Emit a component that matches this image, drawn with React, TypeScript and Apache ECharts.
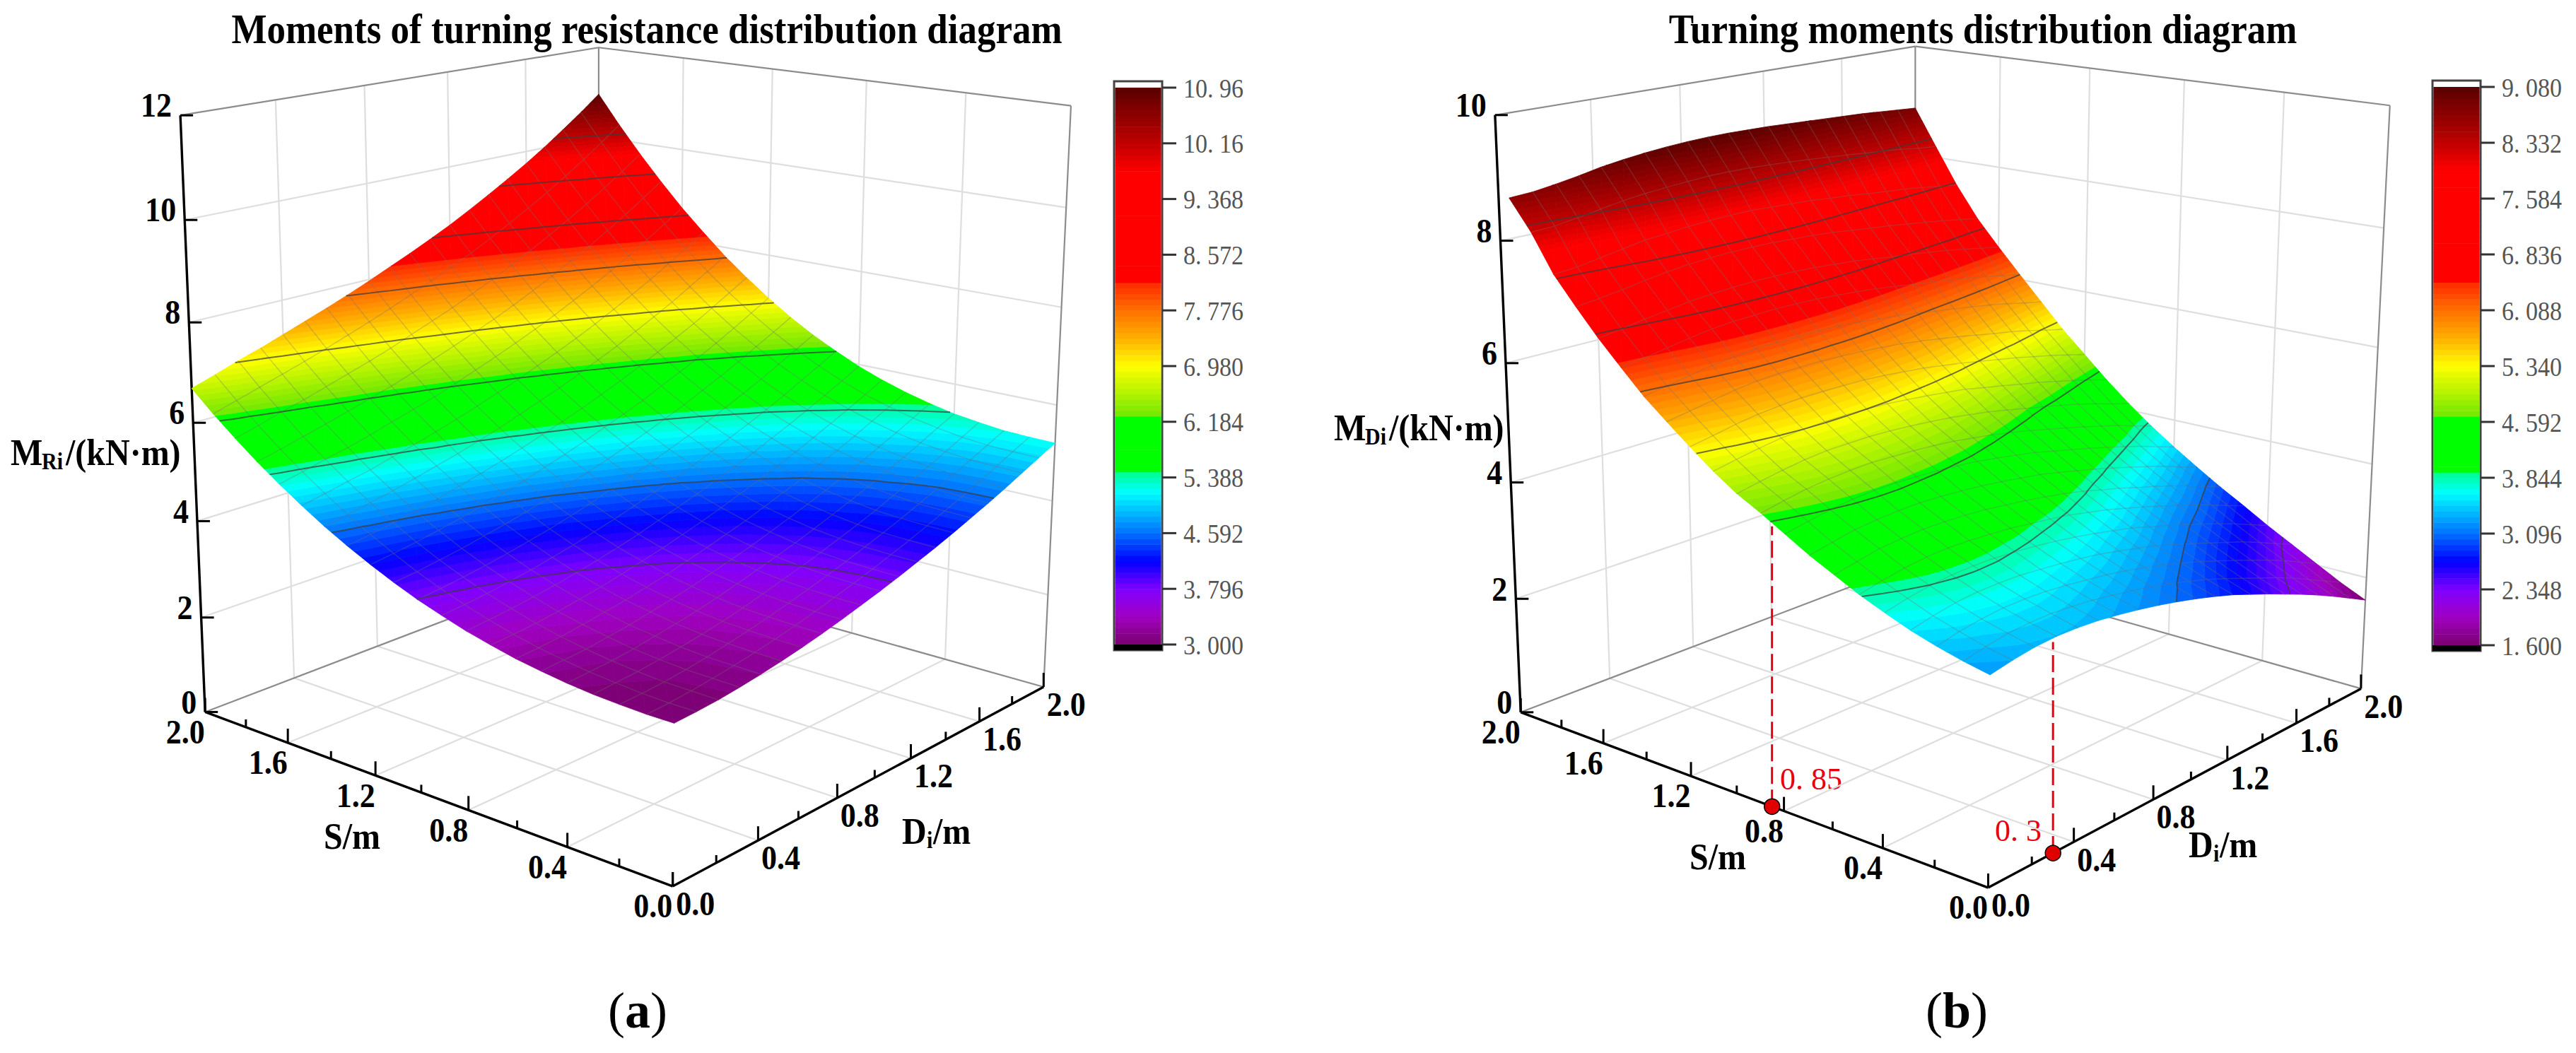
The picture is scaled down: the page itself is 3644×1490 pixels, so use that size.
import React, { useEffect, useRef } from "react";
import * as echarts from "echarts";

const SERIF = '"Liberation Serif"';
const S_GRID = [0, 0.1, 0.2, 0.3, 0.4, 0.5, 0.6, 0.7, 0.8, 0.9, 1.0, 1.1, 1.2, 1.3, 1.4, 1.5, 1.6, 1.7, 1.8, 1.9, 2.0];
const AXIS_MAJOR = [0, 0.4, 0.8, 1.2, 1.6, 2.0];
const AXIS_MINOR = [0.2, 0.6, 1.0, 1.4, 1.8];

// Moment values: rows S = 0..2, columns Di = 0..2
const LEFT_VALUES = [
[3.00,3.02,3.05,3.10,3.16,3.23,3.31,3.40,3.50,3.61,3.72,3.84,3.97,4.10,4.24,4.39,4.54,4.70,4.87,5.04,5.21],
[3.00,3.02,3.06,3.11,3.17,3.24,3.32,3.41,3.51,3.62,3.73,3.85,3.98,4.11,4.25,4.40,4.55,4.71,4.88,5.05,5.22],
[3.02,3.04,3.07,3.12,3.18,3.26,3.34,3.43,3.53,3.64,3.75,3.87,4.00,4.13,4.27,4.42,4.57,4.73,4.90,5.07,5.24],
[3.05,3.08,3.11,3.16,3.22,3.29,3.37,3.46,3.57,3.68,3.79,3.91,4.04,4.17,4.31,4.47,4.62,4.78,4.95,5.12,5.30],
[3.10,3.13,3.16,3.21,3.28,3.35,3.43,3.52,3.63,3.74,3.85,3.97,4.10,4.24,4.38,4.53,4.69,4.85,5.02,5.20,5.37],
[3.17,3.20,3.23,3.29,3.35,3.43,3.51,3.60,3.71,3.82,3.93,4.06,4.19,4.33,4.47,4.62,4.78,4.95,5.12,5.30,5.48],
[3.25,3.28,3.32,3.38,3.45,3.52,3.61,3.70,3.81,3.92,4.04,4.16,4.30,4.44,4.58,4.74,4.90,5.07,5.25,5.43,5.61],
[3.36,3.39,3.43,3.49,3.56,3.64,3.73,3.83,3.93,4.05,4.17,4.30,4.44,4.58,4.73,4.88,5.05,5.22,5.40,5.58,5.77],
[3.48,3.52,3.57,3.63,3.70,3.78,3.87,3.97,4.08,4.21,4.33,4.46,4.60,4.74,4.89,5.06,5.22,5.40,5.58,5.77,5.96],
[3.63,3.67,3.72,3.79,3.86,3.95,4.04,4.15,4.26,4.38,4.51,4.64,4.78,4.93,5.09,5.25,5.42,5.60,5.80,5.99,6.19],
[3.79,3.84,3.90,3.97,4.05,4.14,4.23,4.34,4.46,4.59,4.71,4.85,5.00,5.15,5.31,5.48,5.66,5.84,6.04,6.24,6.44],
[3.98,4.03,4.10,4.17,4.26,4.35,4.45,4.56,4.69,4.82,4.95,5.09,5.24,5.40,5.56,5.74,5.92,6.11,6.32,6.52,6.73],
[4.19,4.25,4.32,4.40,4.49,4.59,4.70,4.81,4.94,5.07,5.21,5.36,5.51,5.67,5.85,6.03,6.21,6.41,6.62,6.84,7.06],
[4.42,4.49,4.57,4.65,4.75,4.86,4.97,5.09,5.22,5.36,5.50,5.65,5.81,5.98,6.16,6.35,6.54,6.74,6.96,7.19,7.42],
[4.67,4.75,4.84,4.93,5.04,5.15,5.26,5.39,5.52,5.67,5.82,5.97,6.14,6.32,6.50,6.70,6.90,7.11,7.34,7.57,7.81],
[4.95,5.04,5.14,5.23,5.35,5.46,5.59,5.72,5.86,6.01,6.16,6.33,6.50,6.68,6.87,7.08,7.29,7.51,7.75,7.99,8.25],
[5.25,5.35,5.46,5.56,5.68,5.81,5.94,6.07,6.22,6.38,6.54,6.71,6.89,7.08,7.28,7.49,7.71,7.94,8.19,8.45,8.71],
[5.57,5.68,5.80,5.92,6.05,6.18,6.31,6.46,6.62,6.78,6.95,7.12,7.31,7.51,7.72,7.94,8.16,8.41,8.67,8.94,9.22],
[5.92,6.04,6.18,6.30,6.44,6.58,6.72,6.87,7.04,7.21,7.38,7.57,7.76,7.97,8.19,8.42,8.66,8.91,9.18,9.46,9.76],
[6.29,6.43,6.57,6.71,6.85,7.00,7.16,7.32,7.49,7.67,7.85,8.04,8.24,8.46,8.69,8.93,9.18,9.45,9.73,10.03,10.34],
[6.69,6.84,7.00,7.14,7.30,7.46,7.62,7.79,7.97,8.16,8.35,8.55,8.76,8.99,9.23,9.48,9.74,10.02,10.32,10.63,10.96],
];
const RIGHT_VALUES = [
[3.25,3.32,3.37,3.39,3.38,3.35,3.30,3.24,3.17,3.09,3.00,2.90,2.79,2.66,2.53,2.39,2.25,2.10,1.94,1.77,1.60],
[3.33,3.40,3.46,3.48,3.48,3.45,3.41,3.35,3.29,3.21,3.13,3.03,2.93,2.81,2.68,2.55,2.42,2.28,2.12,1.96,1.80],
[3.43,3.51,3.56,3.59,3.59,3.57,3.53,3.48,3.43,3.36,3.28,3.19,3.09,2.98,2.86,2.74,2.61,2.48,2.34,2.18,2.03],
[3.55,3.63,3.69,3.72,3.72,3.71,3.67,3.63,3.58,3.52,3.44,3.36,3.27,3.16,3.05,2.93,2.81,2.69,2.55,2.40,2.26],
[3.70,3.78,3.84,3.87,3.88,3.87,3.84,3.80,3.75,3.69,3.62,3.54,3.46,3.35,3.25,3.13,3.02,2.90,2.77,2.63,2.49],
[3.86,3.94,4.00,4.04,4.05,4.04,4.01,3.98,3.93,3.88,3.82,3.74,3.66,3.56,3.46,3.35,3.24,3.13,3.00,2.87,2.74],
[4.05,4.12,4.19,4.22,4.24,4.23,4.21,4.18,4.13,4.08,4.02,3.95,3.87,3.77,3.68,3.57,3.47,3.36,3.24,3.11,2.98],
[4.24,4.31,4.38,4.41,4.43,4.43,4.41,4.38,4.34,4.29,4.23,4.17,4.09,4.00,3.91,3.81,3.71,3.60,3.49,3.36,3.24],
[4.46,4.53,4.59,4.63,4.65,4.65,4.63,4.61,4.57,4.53,4.47,4.40,4.33,4.24,4.15,4.06,3.96,3.86,3.75,3.63,3.51],
[4.68,4.75,4.81,4.85,4.87,4.88,4.86,4.84,4.81,4.77,4.71,4.65,4.58,4.50,4.41,4.32,4.23,4.13,4.03,3.91,3.80],
[4.88,4.95,5.01,5.06,5.09,5.09,5.09,5.07,5.04,5.00,4.96,4.90,4.84,4.76,4.68,4.60,4.52,4.43,4.33,4.22,4.12],
[5.13,5.20,5.26,5.31,5.34,5.35,5.35,5.34,5.32,5.28,5.24,5.19,5.14,5.06,4.99,4.91,4.84,4.75,4.66,4.57,4.47],
[5.42,5.48,5.55,5.60,5.63,5.65,5.65,5.64,5.63,5.60,5.56,5.52,5.46,5.40,5.33,5.26,5.19,5.11,5.03,4.94,4.85],
[5.72,5.78,5.84,5.90,5.94,5.96,5.96,5.96,5.94,5.92,5.89,5.85,5.80,5.74,5.68,5.61,5.54,5.48,5.40,5.31,5.23],
[6.03,6.09,6.15,6.21,6.25,6.28,6.29,6.29,6.28,6.27,6.24,6.20,6.16,6.11,6.05,6.00,5.94,5.88,5.81,5.73,5.66],
[6.40,6.45,6.51,6.57,6.62,6.65,6.66,6.67,6.66,6.65,6.62,6.59,6.55,6.50,6.45,6.40,6.35,6.29,6.23,6.16,6.09],
[6.78,6.83,6.89,6.94,6.99,7.02,7.04,7.05,7.05,7.04,7.02,6.99,6.96,6.91,6.86,6.82,6.77,6.72,6.66,6.59,6.53],
[7.20,7.24,7.29,7.35,7.40,7.44,7.46,7.47,7.47,7.46,7.44,7.42,7.39,7.34,7.30,7.26,7.21,7.16,7.11,7.05,6.99],
[7.64,7.67,7.73,7.79,7.85,7.88,7.91,7.93,7.94,7.94,7.92,7.90,7.88,7.84,7.81,7.77,7.73,7.70,7.65,7.60,7.55],
[8.24,8.26,8.31,8.37,8.43,8.47,8.50,8.52,8.54,8.54,8.53,8.51,8.49,8.46,8.43,8.40,8.36,8.33,8.29,8.24,8.20],
[8.72,8.74,8.79,8.85,8.92,8.97,9.01,9.04,9.06,9.07,9.07,9.06,9.05,9.03,9.01,8.99,8.97,8.95,8.92,8.89,8.86],
];

const LEFT_LEGEND = ["3. 000","3. 796","4. 592","5. 388","6. 184","6. 980","7. 776","8. 572","9. 368","10. 16","10. 96"];
const RIGHT_LEGEND = ["1. 600","2. 348","3. 096","3. 844","4. 592","5. 340","6. 088","6. 836","7. 584","8. 332","9. 080"];
const LEFT_Z_TICKS = [0, 2, 4, 6, 8, 10, 12];
const RIGHT_Z_TICKS = [0, 2, 4, 6, 8, 10];

const STOPS: [number, string][] = [
  [0, "#7a006e"], [0.05, "#a000c0"], [0.1, "#8000ff"], [0.15, "#0000ff"], [0.2, "#0070ff"], [0.273, "#00ffff"],
  [0.31, "#00ff90"], [0.31, "#00ff00"], [0.41, "#00ff00"], [0.41, "#70e800"], [0.5, "#ffff00"], [0.55, "#ffb000"],
  [0.6, "#ff7000"], [0.645, "#ff3000"], [0.645, "#ff0000"], [0.85, "#ff0000"], [0.9, "#c00000"], [1, "#5a0000"],
];
const hex = (h: string) => [1, 3, 5].map((k) => parseInt(h.slice(k, k + 2), 16));
function cmap(t: number) {
  for (let k = 0; k < STOPS.length - 1; k++) {
    const [a, ca] = STOPS[k]; const [b, cb] = STOPS[k + 1];
    if (t <= b && b > a) {
      const u = Math.max(0, (t - a) / (b - a)); const x = hex(ca), y = hex(cb);
      return `rgb(${x.map((v, n) => Math.round(v + (y[n] - v) * u)).join(",")})`;
    }
  }
  return STOPS[STOPS.length - 1][1];
}
const N_BANDS = 100;
function makeBands(min: number, max: number) {
  const out: { lo: number; hi: number; c: string }[] = [];
  for (let k = 0; k < N_BANDS; k++) {
    const c = cmap((k + 0.5) / N_BANDS);
    const lo = k === 0 ? -1e9 : min + ((max - min) * k) / N_BANDS;
    const hi = k === N_BANDS - 1 ? 1e9 : min + ((max - min) * (k + 1)) / N_BANDS;
    if (out.length && out[out.length - 1].c === c) out[out.length - 1].hi = hi;
    else out.push({ lo, hi, c });
  }
  return out;
}

function solve(A: number[][], b: number[]) {
  const n = b.length; const M = A.map((r, i) => [...r, b[i]]);
  for (let c = 0; c < n; c++) {
    let p = c; for (let r = c + 1; r < n; r++) if (Math.abs(M[r][c]) > Math.abs(M[p][c])) p = r;
    [M[c], M[p]] = [M[p], M[c]];
    for (let r = 0; r < n; r++) if (r !== c) { const q = M[r][c] / M[c][c]; for (let k = c; k <= n; k++) M[r][k] -= q * M[c][k]; }
  }
  return M.map((r, i) => r[n] / r[i]);
}
type P3 = [number, number, number, number, number];
function makeProject(corners: P3[], zMax: number) {
  const rows: number[][] = []; const rhs: number[] = [];
  for (const [s, d, h, x, y] of corners) {
    const u = x / 1000, v = y / 1000;
    rows.push([s, d, h, 1, 0, 0, 0, 0, -u * s, -u * d, -u * h]); rhs.push(u);
    rows.push([0, 0, 0, 0, s, d, h, 1, -v * s, -v * d, -v * h]); rhs.push(v);
  }
  const n = 11; const AtA = Array.from({ length: n }, () => Array(n).fill(0)); const Atb = Array(n).fill(0);
  rows.forEach((r, k) => { for (let a = 0; a < n; a++) { Atb[a] += r[a] * rhs[k]; for (let b = 0; b < n; b++) AtA[a][b] += r[a] * r[b]; } });
  const p = solve(AtA, Atb);
  return (S: number, D: number, z: number): [number, number] => {
    const s = S / 2, d = D / 2, h = z / zMax; const w = p[8] * s + p[9] * d + p[10] * h + 1;
    return [((p[0] * s + p[1] * d + p[2] * h + p[3]) / w) * 1000, ((p[4] * s + p[5] * d + p[6] * h + p[7]) / w) * 1000];
  };
}
type V = { x: number; y: number; z: number };
function clip(poly: V[], level: number, keepAbove: boolean) {
  const out: V[] = [];
  for (let k = 0; k < poly.length; k++) {
    const a = poly[k], b = poly[(k + 1) % poly.length];
    const ia = keepAbove ? a.z >= level : a.z <= level; const ib = keepAbove ? b.z >= level : b.z <= level;
    if (ia) out.push(a);
    if (ia !== ib) { const u = (level - a.z) / (b.z - a.z); out.push({ x: a.x + (b.x - a.x) * u, y: a.y + (b.y - a.y) * u, z: level }); }
  }
  return out;
}

function buildPanel(cfg: any) {
  const { corners, zMax, zTicks, values, legend, vmin, vmax, sShrink } = cfg;
  const project = makeProject(corners, zMax);
  const bands = makeBands(vmin, vmax);
  const levels = legend.slice(1, -1).map((_: string, k: number) => vmin + ((vmax - vmin) * (k + 1)) / 10);
  const frameData: any[] = [];
  const add = (a: number[], b: number[], kind: number) => frameData.push([...a, ...b, kind]);
  const inner = AXIS_MAJOR.slice(1, -1);
  inner.forEach((t) => { add([t, 0, 0], [t, 2, 0], 0); add([0, t, 0], [2, t, 0], 0); add([t, 2, 0], [t, 2, zMax], 0); add([2, t, 0], [2, t, zMax], 0); });
  zTicks.slice(1, -1).forEach((z: number) => { add([0, 2, z], [2, 2, z], 0); add([2, 0, z], [2, 2, z], 0); });
  add([2, 0, 0], [2, 2, 0], 1); add([2, 2, 0], [0, 2, 0], 1); add([2, 2, 0], [2, 2, zMax], 1);
  add([2, 0, zMax], [2, 2, zMax], 1); add([2, 2, zMax], [0, 2, zMax], 1); add([0, 2, 0], [0, 2, zMax], 1);
  add([0, 0, 0], [2, 0, 0], 2); add([0, 0, 0], [0, 2, 0], 2); add([2, 0, 0], [2, 0, zMax], 2);
  const frame = {
    type: "custom", coordinateSystem: "none", silent: true, animation: false, progressive: 0, clip: false, data: frameData,
    renderItem: (_p: any, api: any) => {
      const a = project(api.value(0), api.value(1), api.value(2)); const b = project(api.value(3), api.value(4), api.value(5)); const k = api.value(6);
      return { type: "line", shape: { x1: a[0], y1: a[1], x2: b[0], y2: b[1] }, style: { stroke: ["#dedede", "#8c8c8c", "#000"][k], lineWidth: [2.2, 2.2, 3.4][k] } };
    },
  };
  const tickData: any[] = [];
  AXIS_MAJOR.forEach((t) => { tickData.push([t, 0, 0, 0, -20]); tickData.push([0, t, 0, 0, -20]); });
  AXIS_MINOR.forEach((t) => { tickData.push([t, 0, 0, 0, -11]); tickData.push([0, t, 0, 0, -11]); });
  zTicks.forEach((z: number) => tickData.push([2, 0, z, 18, 0]));
  const ticks = {
    type: "custom", coordinateSystem: "none", silent: true, animation: false, progressive: 0, clip: false, data: tickData,
    renderItem: (_p: any, api: any) => {
      const a = project(api.value(0), api.value(1), api.value(2));
      return { type: "line", shape: { x1: a[0], y1: a[1], x2: a[0] + api.value(3), y2: a[1] + api.value(4) }, style: { stroke: "#000", lineWidth: 3 } };
    },
  };
  const cells: number[][] = [];
  for (let i = 19; i >= 0; i--) for (let j = 19; j >= 0; j--) cells.push([i, j, values[i][j], values[i + 1][j], values[i + 1][j + 1], values[i][j + 1]]);
  const sAt = (a: number, b: number) => S_GRID[a] * (1 - sShrink * (1 - S_GRID[b] / 2));
  const surface = {
    type: "custom", coordinateSystem: "none", silent: true, animation: false, progressive: 0, clip: false, data: cells,
    renderItem: (_p: any, api: any) => {
      const i = api.value(0), j = api.value(1);
      const idx = [[i, j, 2], [i + 1, j, 3], [i + 1, j + 1, 4], [i, j + 1, 5]];
      const vs: V[] = idx.map(([a, b, c]) => { const z = api.value(c); const q = project(sAt(a, b), S_GRID[b], z); return { x: q[0], y: q[1], z }; });
      const children: any[] = [];
      [[vs[0], vs[1], vs[2]], [vs[0], vs[2], vs[3]]].forEach((tri) => {
        const zs = tri.map((v) => v.z); const lo = Math.min(...zs), hi = Math.max(...zs);
        bands.forEach((b) => {
          if (b.hi < lo || b.lo > hi) return;
          const poly = clip(clip(tri, b.lo, true), b.hi, false);
          if (poly.length < 3) return;
          children.push({ type: "polygon", shape: { points: poly.map((v) => [v.x, v.y]) }, style: { fill: b.c, stroke: b.c, lineWidth: 0.8 } });
        });
        levels.forEach((l: number) => {
          if (l <= lo || l >= hi) return;
          const pts: number[][] = [];
          tri.forEach((a, k) => { const c = tri[(k + 1) % 3]; if ((a.z - l) * (c.z - l) < 0) { const u = (l - a.z) / (c.z - a.z); pts.push([a.x + (c.x - a.x) * u, a.y + (c.y - a.y) * u]); } });
          if (pts.length === 2) children.push({ type: "line", z2: 3, shape: { x1: pts[0][0], y1: pts[0][1], x2: pts[1][0], y2: pts[1][1] }, style: { stroke: "rgba(60,60,60,0.72)", lineWidth: 2 } });
        });
      });
      const mesh = "rgba(110,110,110,0.3)";
      if (j > 0) children.push({ type: "line", z2: 2, shape: { x1: vs[0].x, y1: vs[0].y, x2: vs[1].x, y2: vs[1].y }, style: { stroke: mesh, lineWidth: 1.5 } });
      if (i > 0) children.push({ type: "line", z2: 2, shape: { x1: vs[0].x, y1: vs[0].y, x2: vs[3].x, y2: vs[3].y }, style: { stroke: mesh, lineWidth: 1.5 } });
      return { type: "group", children };
    },
  };
  const g: any[] = [];
  const text = (t: string, x: number, y: number, font: string, align = "center", fill = "#000", sy = 1) =>
    g.push({ type: "text", silent: true, x, y, scaleY: sy, style: { text: t, x: 0, y: 0, font, align, verticalAlign: "middle", fill } });
  const tickFont = `bold 44px ${SERIF}`;
  AXIS_MAJOR.forEach((t) => {
    const a = project(t, 0, 0); text(t.toFixed(1), a[0] - 28, a[1] + 28, tickFont, "center", "#000", 1.1);
    const b = project(0, t, 0); text(t.toFixed(1), b[0] + 32, b[1] + 25, tickFont, "center", "#000", 1.1);
  });
  zTicks.forEach((z: number) => { const a = project(2, 0, z); text(String(z), a[0] - 12, a[1] - 14, tickFont, "right", "#000", 1.1); });
  text(cfg.title, cfg.titleX, 41, `bold 53px ${SERIF}`, "center", "#000", 1.1);
  const [lx, ly, subName] = cfg.mLabel;
  text("M", lx, ly, `bold 48px ${SERIF}`, "left", "#000", 1.1);
  text(subName, lx + 44, ly + 13, `bold 30px ${SERIF}`, "left", "#000", 1.1);
  text("/(kN·m)", lx + 78, ly, `bold 48px ${SERIF}`, "left", "#000", 1.1);
  text("S/m", cfg.sLabel[0], cfg.sLabel[1], `bold 48px ${SERIF}`, "center", "#000", 1.1);
  text("D", cfg.dLabel[0], cfg.dLabel[1], `bold 48px ${SERIF}`, "left", "#000", 1.1);
  text("i", cfg.dLabel[0] + 35, cfg.dLabel[1] + 13, `bold 30px ${SERIF}`, "left", "#000", 1.1);
  text("/m", cfg.dLabel[0] + 44, cfg.dLabel[1], `bold 48px ${SERIF}`, "left", "#000", 1.1);
  g.push({ type: "text", silent: true, style: { text: `{n|(}{b|${cfg.tag}}{n|)}`, x: cfg.tagX, y: 1430, align: "center", verticalAlign: "middle", rich: { n: { font: `72px ${SERIF}`, fill: "#000" }, b: { font: `bold 72px ${SERIF}`, fill: "#000" } } } });
  const [x0, x1, top, y1, y0, bot] = cfg.legendBox;
  g.push({ type: "rect", silent: true, shape: { x: x0, y: top, width: x1 - x0, height: bot - top }, style: { fill: "#fff", stroke: "#444", lineWidth: 3 } });
  for (let k = 0; k < N_BANDS; k++) {
    const h = (y0 - y1) / N_BANDS;
    g.push({ type: "rect", silent: true, shape: { x: x0 + 1.5, y: y0 - h * (k + 1), width: x1 - x0 - 3, height: h + 0.6 }, style: { fill: cmap((k + 0.5) / N_BANDS) } });
  }
  g.push({ type: "rect", silent: true, shape: { x: x0, y: y0, width: x1 - x0, height: bot - y0 }, style: { fill: "#000" } });
  legend.forEach((t: string, k: number) => {
    const y = y0 - ((y0 - y1) * k) / 10;
    g.push({ type: "line", silent: true, shape: { x1: x1, y1: y, x2: x1 + 20, y2: y }, style: { stroke: "#333", lineWidth: 3 } });
    text(t, x1 + 30, y + 1, `34px ${SERIF}`, "left", "#555", 1.1);
  });
  return { series: [frame, surface, ticks], graphic: g, project };
}

const leftPanel = buildPanel({
  corners: [[0,0,0,952,1252.5],[1,0,0,290,1009],[0,1,0,1476,974],[1,1,0,847,793],[1,0,1,255,163],[0,1,1,1515,149],[1,1,1,847,68]],
  zMax: 12, zTicks: LEFT_Z_TICKS, values: LEFT_VALUES, legend: LEFT_LEGEND, vmin: 3, vmax: 10.96, sShrink: 0,
  title: "Moments of turning resistance distribution diagram", titleX: 915, mLabel: [15, 640, "Ri"], sLabel: [498, 1183], dLabel: [1276, 1176],
  tag: "a", tagX: 902, legendBox: [1576, 1644, 115, 124, 912, 920],
});
const rightPanel = buildPanel({
  corners: [[0,0,0,2812,1254.4],[1,0,0,2151.5,1010],[0,1,0,3340,976],[1,1,0,2709,793.5],[1,0,1,2115,162],[0,1,1,3381,149],[1,1,1,2709,66.5]],
  zMax: 10, zTicks: RIGHT_Z_TICKS, values: RIGHT_VALUES, legend: RIGHT_LEGEND, vmin: 1.6, vmax: 9.08, sShrink: 0.025,
  title: "Turning moments distribution diagram", titleX: 2805, mLabel: [1887, 605, "Di"], sLabel: [2430, 1212], dLabel: [3096, 1195],
  tag: "b", tagX: 2768, legendBox: [3441, 3509, 114, 123, 913, 921],
});
const MARK_S = 0.85, MARK_D = 0.3;
const MARK_S_Z = 4.592, MARK_D_Z = 3.39;
function markSeries() {
  const p = rightPanel.project;
  const lines = [[MARK_S, 0, MARK_S_Z], [0, MARK_D, MARK_D_Z]];
  return [
    { type: "custom", coordinateSystem: "none", silent: true, animation: false, clip: false, data: lines,
      renderItem: (_p: any, api: any) => {
        const b = p(api.value(0), api.value(1), 0); const t = p(api.value(0), api.value(1), api.value(2));
        return { type: "line", shape: { x1: b[0], y1: b[1], x2: b[0], y2: t[1] + 8 }, style: { stroke: "#e60012", lineWidth: 3, lineDash: [24, 8] } };
      } },
    { type: "custom", coordinateSystem: "none", silent: true, animation: false, clip: false, data: lines,
      renderItem: (_p: any, api: any) => {
        const b = p(api.value(0), api.value(1), 0);
        return { type: "circle", shape: { cx: b[0], cy: b[1], r: 11 }, style: { fill: "#e00000", stroke: "#000", lineWidth: 1.5 } };
      } },
  ];
}

export default function App() {
  const ref = useRef<HTMLDivElement>(null);
  useEffect(() => {
    document.body.style.margin = "0";
    const chart = echarts.init(ref.current!, undefined, { renderer: "svg" });
    const redA = { type: "text", silent: true, style: { text: "0. 85", x: 2518, y: 1102, font: `44px ${SERIF}`, fill: "#e60012", align: "left", verticalAlign: "middle" } };
    const redB = { type: "text", silent: true, style: { text: "0. 3", x: 2822, y: 1175, font: `44px ${SERIF}`, fill: "#e60012", align: "left", verticalAlign: "middle" } };
    chart.setOption({
      animation: false, backgroundColor: "#fff",
      series: [...leftPanel.series, ...rightPanel.series, ...markSeries()],
      graphic: [...leftPanel.graphic, ...rightPanel.graphic, redA, redB],
    });
    return () => chart.dispose();
  }, []);
  return <div ref={ref} style={{ width: 3644, height: 1490 }} />;
}
